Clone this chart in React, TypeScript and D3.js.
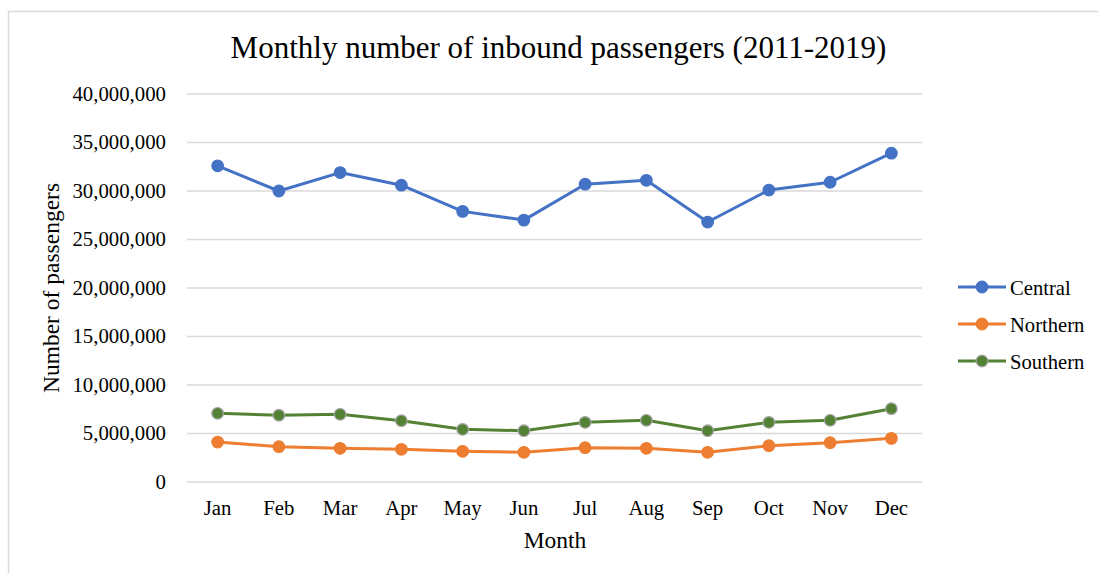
import React from "react";
import * as d3 from "d3";

const months = ["Jan", "Feb", "Mar", "Apr", "May", "Jun", "Jul", "Aug", "Sep", "Oct", "Nov", "Dec"];
const central = [32600000, 30000000, 31900000, 30600000, 27900000, 27000000, 30700000, 31100000, 26800000, 30100000, 30900000, 33900000];
const northern = [4120000, 3640000, 3470000, 3370000, 3160000, 3060000, 3540000, 3470000, 3060000, 3740000, 4050000, 4500000];
const southern = [7080000, 6880000, 6980000, 6320000, 5430000, 5290000, 6150000, 6360000, 5290000, 6150000, 6360000, 7560000];
const yTicks = [0, 5000000, 10000000, 15000000, 20000000, 25000000, 30000000, 35000000, 40000000];

const seriesList = [
  { name: "Central", values: central, color: "#4472C4", stroke: "#4472C4" },
  { name: "Northern", values: northern, color: "#ED7D31", stroke: "#ED7D31" },
  { name: "Southern", values: southern, color: "#548235", stroke: "#A5A5A5" },
];

const W = 1098;
const H = 573;
const plot = { left: 187, right: 922, top: 94, bottom: 482 };
const font = "'Liberation Serif', 'Times New Roman', serif";

export default function App() {
  const x = d3.scaleBand<string>().domain(months).range([plot.left, plot.right]);
  const y = d3.scaleLinear().domain([0, 40000000]).range([plot.bottom, plot.top]);
  const cx = (m: string) => (x(m) as number) + x.bandwidth() / 2;
  const fmt = d3.format(",");
  const line = d3
    .line<number>()
    .x((_, i) => cx(months[i]))
    .y((v) => y(v));

  return (
    <svg width={W} height={H} style={{ position: "absolute", left: 0, top: 0 }} fontFamily={font}>
      <rect x={0} y={0} width={W} height={H} fill="#fff" />
      <rect x={8.5} y={11.5} width={W + 10} height={H + 10} fill="none" stroke="#D9D9D9" strokeWidth={1.5} />
      <text x={558.5} y={58} textAnchor="middle" fontSize={31} fill="#000">
        Monthly number of inbound passengers (2011-2019)
      </text>
      {yTicks.map((t) => (
        <g key={t}>
          <line x1={plot.left} x2={plot.right} y1={y(t)} y2={y(t)} stroke="#D9D9D9" strokeWidth={1.5} />
          <text x={166} y={y(t) + 6.5} textAnchor="end" fontSize={20.8} fill="#000">
            {fmt(t)}
          </text>
        </g>
      ))}
      {months.map((m) => (
        <text key={m} x={cx(m)} y={515} textAnchor="middle" fontSize={20.8} fill="#000">
          {m}
        </text>
      ))}
      <text x={555} y={548} textAnchor="middle" fontSize={23.5} fill="#000">
        Month
      </text>
      <text
        transform={`translate(59, ${(plot.top + plot.bottom) / 2}) rotate(-90)`}
        textAnchor="middle"
        fontSize={23.5}
        fill="#000"
      >
        Number of passengers
      </text>
      {seriesList.map((s) => (
        <g key={s.name}>
          <path d={line(s.values) as string} fill="none" stroke={s.color} strokeWidth={3} strokeLinejoin="round" />
          {s.values.map((v, i) => (
            <circle key={i} cx={cx(months[i])} cy={y(v)} r={5.8} fill={s.color} stroke={s.stroke} strokeWidth={1.2} />
          ))}
        </g>
      ))}
      {seriesList.map((s, i) => {
        const ly = 287 + i * 37;
        return (
          <g key={s.name}>
            <line x1={958} x2={1006} y1={ly} y2={ly} stroke={s.color} strokeWidth={3} />
            <circle cx={982} cy={ly} r={5.8} fill={s.color} stroke={s.stroke} strokeWidth={1.2} />
            <text x={1010} y={ly + 7.5} fontSize={20.6} fill="#000">
              {s.name}
            </text>
          </g>
        );
      })}
    </svg>
  );
}
